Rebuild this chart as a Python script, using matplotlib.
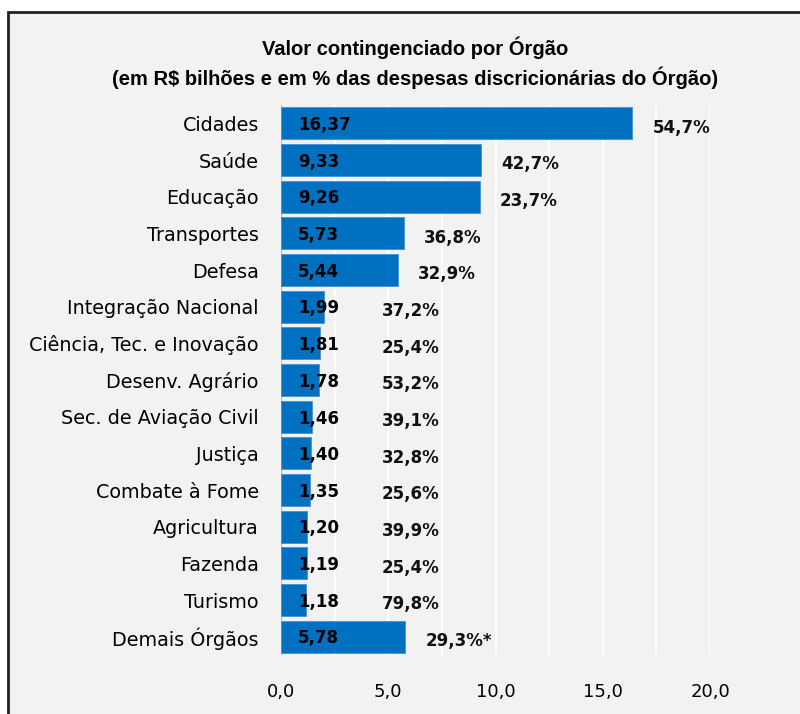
import matplotlib
matplotlib.use("Agg")
import matplotlib.pyplot as plt
from matplotlib.patches import Rectangle

orgaos = ["Cidades", "Saúde", "Educação", "Transportes", "Defesa",
          "Integração Nacional", "Ciência, Tec. e Inovação", "Desenv. Agrário",
          "Sec. de Aviação Civil", "Justiça", "Combate à Fome", "Agricultura",
          "Fazenda", "Turismo", "Demais Órgãos"]
valores = [16.37, 9.33, 9.26, 5.73, 5.44, 1.99, 1.81, 1.78, 1.46, 1.40,
           1.35, 1.20, 1.19, 1.18, 5.78]
percentuais = ["54,7%", "42,7%", "23,7%", "36,8%", "32,9%", "37,2%", "25,4%",
               "53,2%", "39,1%", "32,8%", "25,6%", "39,9%", "25,4%", "79,8%",
               "29,3%*"]
xticks = [0, 5, 10, 15, 20]

plt.rcParams["font.family"] = ["DejaVu Sans"]
BG = "#F2F2F2"
BLUE = "#0070C0"

fig = plt.figure(figsize=(8.0, 7.14), dpi=100)
fig.patch.set_facecolor("white")
frame = Rectangle((8 / 800, -0.01), 1.0, 1 - 12 / 714 + 0.01, transform=fig.transFigure,
                  facecolor=BG, edgecolor="#222222", linewidth=2, zorder=-10)
fig.patches.append(frame)

ax = fig.add_axes([281 / 800, 1 - 655 / 714, (710 - 281) / 800, (655 - 105) / 714])
ax.set_zorder(1)
ax.set_facecolor(BG)
ypos = list(range(len(orgaos)))
ax.barh(ypos, valores, height=0.87, color=BLUE, edgecolor="#4A90D0", linewidth=0.6, zorder=3)
ax.set_ylim(len(orgaos) - 0.5, -0.5)
ax.set_xlim(0, 20)

# linhas de grade a cada 2,5
for x in [2.5 * i for i in range(1, 9)]:
    ax.axvline(x, color="white", linewidth=1.3, zorder=1)

for y, v, p in zip(ypos, valores, percentuais):
    ax.text(0.8, y + 0.05, f"{v:.2f}".replace(".", ","), va="center", ha="left",
            fontsize=12, fontweight="bold", color="black", zorder=4)
    ax.text(max(v + 0.95, 4.7), y + 0.12, p, va="center", ha="left",
            fontsize=12, fontweight="bold", color="#111111", zorder=4)

ax.set_yticks(ypos)
ax.set_yticklabels(orgaos, fontsize=13.8)
ax.set_xticks(xticks)
ax.set_xticklabels([f"{t:.1f}".replace(".", ",") for t in xticks], fontsize=13)
ax.tick_params(axis="y", length=0, pad=16)
ax.tick_params(axis="x", length=0, pad=20)
for s in ax.spines.values():
    s.set_visible(False)
ax.plot([0, 0], [-0.5, len(orgaos) - 0.5], color="#BFBFBF", linewidth=1, zorder=2)

fig.text(415 / 800, 1 - 48 / 714, "Valor contingenciado por Órgão", ha="center", va="center",
         fontsize=14.5, fontweight="bold", family="Liberation Sans")
fig.text(415 / 800, 1 - 78 / 714, "(em R$ bilhões e em % das despesas discricionárias do Órgão)",
         ha="center", va="center", fontsize=14.5, fontweight="bold", family="Liberation Sans")

fig.savefig("out.png", dpi=100, facecolor=fig.get_facecolor())
